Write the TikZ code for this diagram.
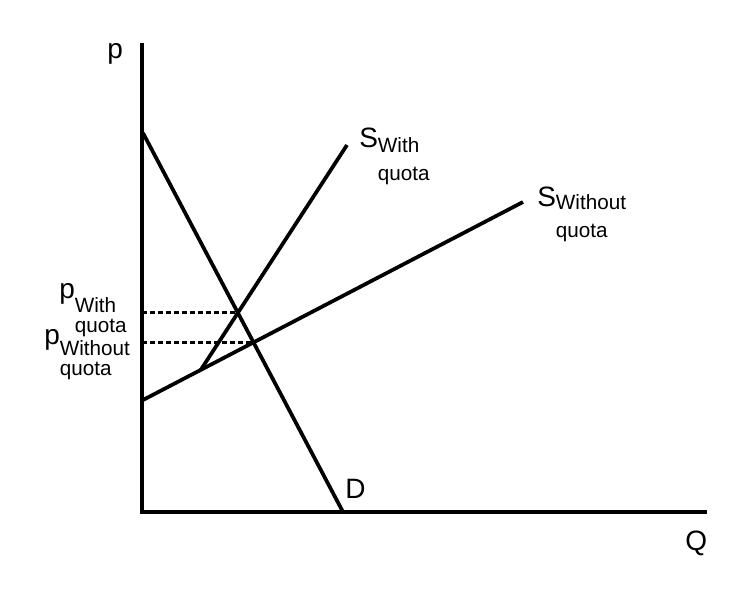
\documentclass[tikz,border=0pt]{standalone}
\usepackage{fontspec}
\setmainfont{Liberation Sans}
\usetikzlibrary{calc,intersections}
\newcommand{\quotalabel}[4]{#1\raisebox{#3}{\fontsize{15.5}{12}\selectfont\begin{tabular}[t]{@{}l@{}}#2\\[#4]quota\end{tabular}}}

\begin{document}
\begin{tikzpicture}
  [x=0.75pt, y=-0.75pt,
  axis/.style={line width=3.6pt},
  curve/.style={line width=2.8pt},
  guide/.style={line width=2pt, dash pattern=on 4pt off 2pt},
  lbl/.style={font=\fontsize{21}{25}\selectfont, inner sep=0pt, anchor=base west}]
  \useasboundingbox (0,0) rectangle (752,598);
  % axes
  \coordinate (origin) at (142,512);
  \coordinate (ptop) at (142,43);
  \coordinate (qend) at (707,512);
  \draw[axis] (ptop) -- (origin) -- (qend);
  % demand and supply
  \coordinate (dtop) at (143,133);
  \coordinate (dbot) at (343,512);
  \coordinate (swo0) at (143,400);
  \coordinate (swo1) at (523,202);
  \coordinate (sw0) at ($(swo0)!0.152!(swo1)$);
  \coordinate (sw1) at (347,145);
  \draw[curve, name path=dem] (dtop) -- (dbot);
  \draw[curve, name path=swo] (swo0) -- (swo1);
  \draw[curve, name path=sw] (sw0) -- (sw1);
  \path[name intersections={of=dem and sw, by=eqw}];
  \path[name intersections={of=dem and swo, by=eqwo}];
  \draw[guide] (eqw -| origin) -- (eqw);
  \draw[guide] (eqwo -| origin) -- (eqwo);
  % labels
  \node[lbl] (plabel) at (107,59) {p};
  \node[lbl] (qlabel) at (685,550) {Q};
  \node[lbl] (dlabel) at (345,498) {D};
  \node[lbl] (swlabel) at (359,148) {\quotalabel{S}{With}{-3.75pt}{6.75pt}};
  \node[lbl] (swolabel) at (537,207) {\quotalabel{S}{Without}{-2.25pt}{6.75pt}};
  \node[lbl] (pwlabel) at (59,298) {\quotalabel{p}{With}{-10.5pt}{1.5pt}};
  \node[lbl] (pwolabel) at (44,344) {\quotalabel{p}{Without}{-8.25pt}{1.5pt}};
\end{tikzpicture}
\end{document}
